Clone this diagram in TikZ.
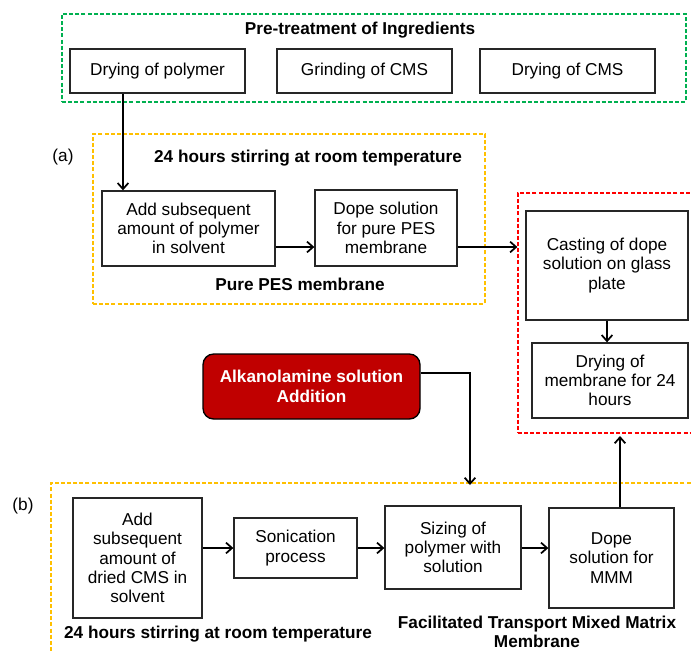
\documentclass[tikz,border=0pt]{standalone}
\usepackage{fontspec}
\setmainfont{Liberation Sans}
\usetikzlibrary{arrows.meta}
\definecolor{grn}{HTML}{00B050}
\definecolor{ylw}{HTML}{FFC000}
\definecolor{rdl}{HTML}{FF0000}
\definecolor{dkred}{HTML}{C00000}
\begin{document}
\begin{tikzpicture}[x=0.75pt,y=-0.75pt,
  txt/.style={font=\fontsize{12.9}{14.4}\selectfont,align=center,inner sep=0pt},
  bld/.style={font=\bfseries\fontsize{12.9}{14.4}\selectfont,align=center,inner sep=0pt},
  box/.style={txt,draw=black!85,line width=1pt,fill=white},
  sz/.style 2 args={minimum width=#1*0.75pt,minimum height=#2*0.75pt},
  frame/.style={draw=#1,line width=0.9pt,dash pattern=on 3pt off 1.6pt,inner sep=0pt},
  arr/.style={line width=1.35pt,-{Straight Barb[length=4.5pt,width=8pt,line width=1.3pt]}},
  ln/.style={line width=1.35pt}]
\useasboundingbox (0,0) rectangle (691,650);
\begin{scope}
\clip (0,0) rectangle (691,650);
% frames
\node[frame=grn,sz={624}{88}] (gframe) at (374,58) {};
\node[frame=ylw,sz={392}{170}] (aframe) at (289,219) {};
\node[frame=rdl,sz={202}{240}] (rframe) at (619,313) {};
\node[frame=ylw,sz={669}{197}] (bframe) at (385.5,581.5) {};
\end{scope}
% titles and labels
\node[bld] (gtitle) at (360,30) {Pre-treatment of Ingredients};
\node[txt] (la) at (63,157) {(a)};
\node[bld] (atitle) at (308,158) {24 hours stirring at room temperature};
\node[bld] (asub) at (300,284) {Pure PES membrane};
\node[txt] (lb) at (23,506) {(b)};
\node[bld] (btitle) at (218,634) {24 hours stirring at room temperature};
\node[bld,font=\bfseries\fontsize{12.9}{14.25}\selectfont] (bsub) at (537,632) {Facilitated Transport Mixed Matrix\\Membrane};
% pre-treatment boxes
\node[box,sz={175}{44}] (dp) at (157.5,71) {Drying of polymer};
\node[box,sz={175}{44}] (gc) at (364.5,71) {Grinding of CMS};
\node[box,sz={175}{44}] (dc) at (567.5,71) {Drying of CMS};
% (a) row
\node[box,sz={173}{75}] (add1) at (188.5,228.5) {Add subsequent\\amount of polymer\\in solvent};
\node[box,sz={142}{76}] (dope1) at (386,228) {Dope solution\\for pure PES\\membrane};
% red frame contents
\node[box,sz={162}{109}] (cast) at (607,265.5) {Casting of dope\\solution on glass\\plate};
\node[box,sz={156}{75}] (drym) at (610,380.5) {Drying of\\membrane for 24\\hours};
% alkanolamine
\node[bld,draw=black,line width=1pt,fill=dkred,text=white,rounded corners=8pt,sz={217}{65}] (alk) at (311.5,386.5) {Alkanolamine solution\\[1pt]Addition};
% (b) row
\node[box,sz={129}{120}] (add2) at (137.5,558) {Add\\subsequent\\amount of\\dried CMS in\\solvent};
\node[box,sz={123}{60}] (son) at (295.5,548) {Sonication\\process};
\node[box,sz={136}{83}] (siz) at (453,547.5) {Sizing of\\polymer with\\solution};
\node[box,sz={125}{100}] (dmm) at (611.5,558) {Dope\\solution for\\MMM};
% helper coordinates
\coordinate (xdp) at (123,0);
\coordinate (ya) at (0,247);
\coordinate (yb) at (0,548);
\coordinate (alkturn) at (470,373);
\coordinate (alkend) at (470,485);
\coordinate (upend) at (620,436);
% connectors
\draw[arr] (dp.south -| xdp) -- (add1.north -| xdp);
\draw[arr] (add1.east |- ya) -- (dope1.west |- ya);
\draw[arr] (dope1.east |- ya) -- (rframe.west |- ya);
\draw[arr] (cast.south) -- (cast.south |- drym.north);
\draw[arr] (alk.east |- alkturn) -- (alkturn) -- (alkend);
\draw[arr] (add2.east |- yb) -- (son.west |- yb);
\draw[arr] (son.east |- yb) -- (siz.west |- yb);
\draw[arr] (siz.east |- yb) -- (dmm.west |- yb);
\draw[arr] (dmm.north -| upend) -- (upend);
\end{tikzpicture}
\end{document}
